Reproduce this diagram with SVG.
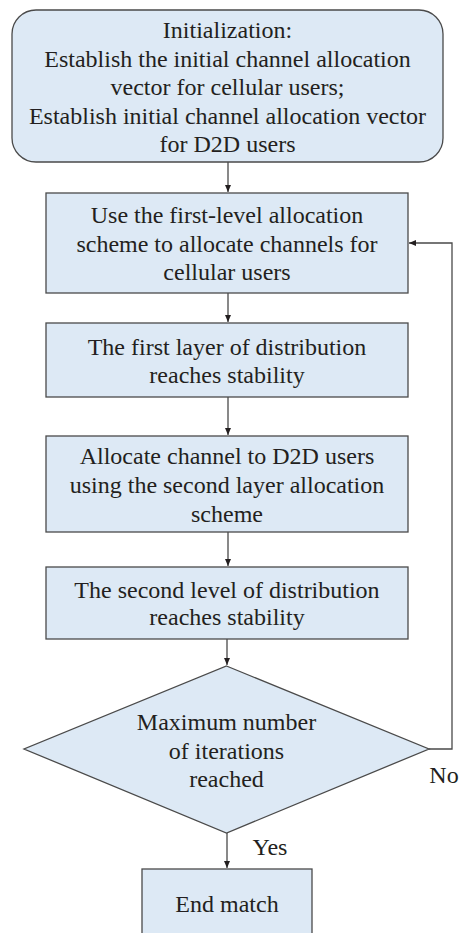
<svg xmlns="http://www.w3.org/2000/svg" width="459" height="933" viewBox="0 0 459 933">
<style>
.n{fill:#dde9f5;stroke:#4a4a4a;stroke-width:1.3}
.c{fill:none;stroke:#4a4a4a;stroke-width:1.3}
.t{font-family:'Liberation Serif','Times New Roman',serif;font-size:24px;fill:#231f20;text-anchor:middle}
</style>
<defs>
<marker id="ah" markerWidth="8" markerHeight="8" refX="7" refY="4" orient="auto" markerUnits="userSpaceOnUse">
<path d="M0,1 L7,4 L0,7 Z" fill="#231f20"/>
</marker>
</defs>
<rect width="459" height="933" fill="#ffffff"/>
<g id="connectors">
<line class="c" x1="228" y1="162" x2="228" y2="192" marker-end="url(#ah)"/>
<line class="c" x1="228" y1="293" x2="228" y2="322" marker-end="url(#ah)"/>
<line class="c" x1="228" y1="397" x2="228" y2="435" marker-end="url(#ah)"/>
<line class="c" x1="228" y1="532" x2="228" y2="566" marker-end="url(#ah)"/>
<line class="c" x1="227" y1="639" x2="227" y2="665" marker-end="url(#ah)"/>
<line class="c" x1="227" y1="833" x2="227" y2="868" marker-end="url(#ah)"/>
<polyline class="c" points="429,749 452,749 452,243 409,243" marker-end="url(#ah)"/>
<text class="t" x="444" y="783">No</text>
<text class="t" x="270" y="855">Yes</text>
</g>
<g id="init">
<rect class="n" x="12" y="10" width="431" height="152" rx="24" ry="24"/>
<text class="t" x="227.5" y="38">Initialization:</text>
<text class="t" x="227.5" y="66.5">Establish the initial channel allocation</text>
<text class="t" x="227.5" y="95">vector for cellular users;</text>
<text class="t" x="227.5" y="123.5">Establish initial channel allocation vector</text>
<text class="t" x="227.5" y="152">for D2D users</text>
</g>
<g id="step1">
<rect class="n" x="46" y="193" width="362" height="100"/>
<text class="t" x="227" y="222.5">Use the first-level allocation</text>
<text class="t" x="227" y="251.5">scheme to allocate channels for</text>
<text class="t" x="227" y="279.5">cellular users</text>
</g>
<g id="step2">
<rect class="n" x="46" y="323" width="362" height="74"/>
<text class="t" x="227" y="355">The first layer of distribution</text>
<text class="t" x="227" y="383">reaches stability</text>
</g>
<g id="step3">
<rect class="n" x="46" y="436" width="362" height="96"/>
<text class="t" x="227" y="463.5">Allocate channel to D2D users</text>
<text class="t" x="227" y="492.5">using the second layer allocation</text>
<text class="t" x="227" y="521.5">scheme</text>
</g>
<g id="step4">
<rect class="n" x="46" y="567" width="362" height="72"/>
<text class="t" x="227" y="597.5">The second level of distribution</text>
<text class="t" x="227" y="625">reaches stability</text>
</g>
<g id="decision">
<polygon class="n" points="226.5,666 429,749 226.5,833 24,749"/>
<text class="t" x="226.5" y="729.5">Maximum number</text>
<text class="t" x="226.5" y="758.5">of iterations</text>
<text class="t" x="226.5" y="786.5">reached</text>
</g>
<g id="end">
<rect class="n" x="142" y="869" width="170" height="70"/>
<text class="t" x="227" y="911.5">End match</text>
</g>
</svg>
